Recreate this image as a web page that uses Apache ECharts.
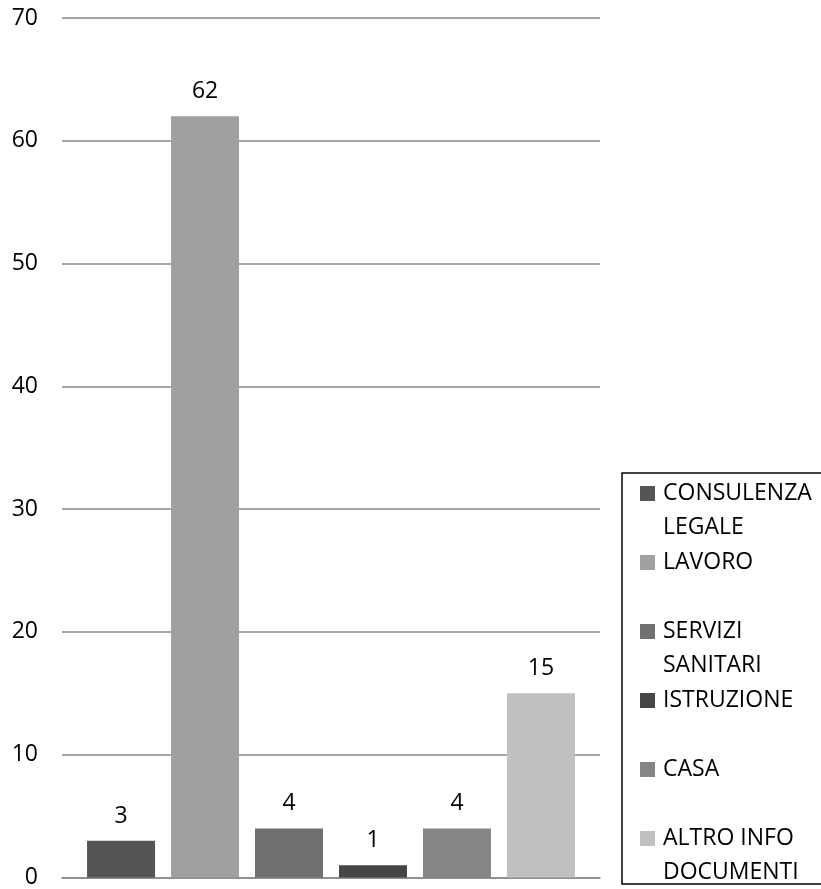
<!DOCTYPE html>
<html>
<head>
<meta charset="utf-8">
<script src="https://cdn.jsdelivr.net/npm/echarts@6/dist/echarts.min.js"></script>
<style>
html,body{margin:0;padding:0;background:#fff;}
#chart{width:821px;height:889px;}
</style>
</head>
<body>
<div id="chart"></div>
<script>
// ---- data ----
const categories = [''];
const seriesNames = ['CONSULENZA LEGALE', 'LAVORO', 'SERVIZI SANITARI', 'ISTRUZIONE', 'CASA', 'ALTRO INFO DOCUMENTI'];
const legendLines = [['CONSULENZA', 'LEGALE'], ['LAVORO', ''], ['SERVIZI', 'SANITARI'], ['ISTRUZIONE', ''], ['CASA', ''], ['ALTRO INFO', 'DOCUMENTI']];
const values = [3, 62, 4, 1, 4, 15];
const colors = ['#555555', '#a0a0a0', '#707070', '#464646', '#858585', '#c0c0c0'];
const yTicks = { min: 0, max: 70, interval: 10 };

// ---- chart ----
const FONT = 'Open Sans';
const FS = 23;
const chart = echarts.init(document.getElementById('chart'), null, { renderer: 'canvas' });

const rich = {
  g: { width: 8 },
  ind: { width: 23 },
  t: { fontFamily: FONT, fontSize: FS, lineHeight: 34, color: '#000' }
};
colors.forEach((c, i) => {
  rich['m' + i] = { width: 15, height: 15, backgroundColor: c };
});

const series = seriesNames.map((name, i) => ({
  name: name,
  type: 'bar',
  data: [values[i]],
  barWidth: 68,
  barGap: '23.5%',
  itemStyle: { color: colors[i] },
  label: {
    show: true,
    position: 'top',
    distance: 13,
    fontFamily: FONT,
    fontSize: FS,
    color: '#000'
  }
}));

chart.setOption({
  animation: false,
  color: colors,
  grid: { left: 62, right: 221, top: 18, bottom: 9, containLabel: false },
  xAxis: {
    type: 'category',
    data: categories,
    axisLine: { show: true, lineStyle: { color: '#888888', width: 1.5 } },
    axisTick: { show: false },
    axisLabel: { show: false }
  },
  yAxis: {
    type: 'value',
    min: yTicks.min,
    max: yTicks.max,
    interval: yTicks.interval,
    axisLine: { show: false },
    axisTick: { show: false },
    axisLabel: { fontFamily: FONT, fontSize: FS, color: '#000', margin: 24 },
    splitLine: { lineStyle: { color: '#888888', width: 1.5 } }
  },
  legend: {
    orient: 'vertical',
    left: 622,
    top: 473,
    icon: 'rect',
    itemWidth: 0,
    itemHeight: 0,
    itemGap: 12,
    padding: [9, 14, 0, 13],
    borderColor: '#000',
    borderWidth: 1.5,
    selectedMode: false,
    itemStyle: { opacity: 0 },
    textStyle: { rich: rich },
    formatter: function (name) {
      const i = seriesNames.indexOf(name);
      const l = legendLines[i];
      return '{m' + i + '|}{g|}{t|' + l[0] + '}\n{ind|}{t|' + (l[1] || ' ') + '}';
    },
    data: seriesNames
  },
  series: series
});
</script>
</body>
</html>
